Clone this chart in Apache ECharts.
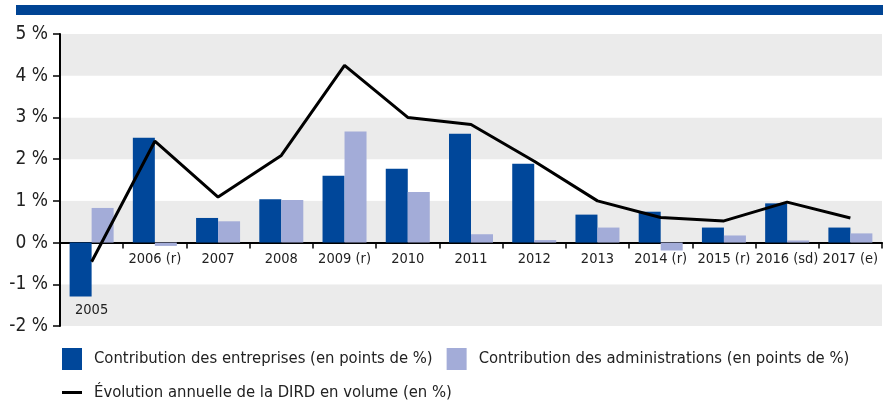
<!DOCTYPE html>
<html>
<head>
<meta charset="utf-8">
<script src="https://cdn.jsdelivr.net/npm/echarts@6/dist/echarts.min.js"></script>
<style>
  html, body { margin: 0; padding: 0; background: #fff; }
  #chart { width: 883px; height: 405px; }
</style>
</head>
<body>
<div id="chart"></div>
<script>
// categories and values
var years = ["2005", "2006 (r)", "2007", "2008", "2009 (r)", "2010", "2011", "2012", "2013", "2014 (r)", "2015 (r)", "2016 (sd)", "2017 (e)"];
var entreprises = [-1.29, 2.51, 0.59, 1.04, 1.6, 1.77, 2.61, 1.89, 0.67, 0.74, 0.36, 0.94, 0.36];
var administrations = [0.83, -0.08, 0.51, 1.02, 2.66, 1.21, 0.2, 0.06, 0.36, -0.19, 0.17, 0.05, 0.22];
var dird = [-0.46, 2.43, 1.09, 2.09, 4.25, 3.0, 2.83, 1.95, 1.0, 0.6, 0.52, 0.97, 0.59];

var font = "'DejaVu Sans Condensed', 'Liberation Sans Narrow', sans-serif";
var darkBlue = "#00479a";
var lightBlue = "#a3acd8";

var gridTop = 34;
var gridBottom = 79;
var yMin = -2;
var yMax = 5;
// move the category axis up to the 0 line
var plotHeight = 405 - gridTop - gridBottom;
var zeroShift = -plotHeight * (0 - yMin) / (yMax - yMin);

var myChart = echarts.init(document.getElementById("chart"));

var option = {
  animation: false,
  textStyle: { fontFamily: font, color: "#222" },
  graphic: [
    {
      type: "rect",
      shape: { x: 16, y: 5, width: 867, height: 10 },
      style: { fill: "#004494" },
    },
  ],
  legend: [
    {
      left: 57,
      top: 343,
      itemWidth: 20,
      itemHeight: 22,
      itemGap: 14,
      textStyle: { fontFamily: font, fontSize: 16.5, color: "#222", padding: [0, 0, 0, 7] },
      data: [
        { name: "Contribution des entreprises (en points de %)", icon: "rect" },
        { name: "Contribution des administrations (en points de %)", icon: "rect" },
      ],
    },
    {
      left: 57,
      top: 379,
      itemWidth: 20,
      itemHeight: 3,
      textStyle: { fontFamily: font, fontSize: 16.5, color: "#222", padding: [0, 0, 0, 7] },
      data: [{ name: "Évolution annuelle de la DIRD en volume (en %)", icon: "rect" }],
    },
  ],
  grid: {
    left: 60,
    right: 1,
    top: gridTop,
    bottom: gridBottom,
  },
  xAxis: {
    type: "category",
    data: years,
    offset: zeroShift,
    axisLine: { onZero: false, lineStyle: { color: "#000", width: 2 } },
    axisTick: { show: true, length: 6, lineStyle: { color: "#000", width: 1.5 } },
    axisLabel: {
      interval: 0,
      margin: 8,
      fontFamily: font,
      fontSize: 14.5,
      lineHeight: 17,
      color: "#222",
      formatter: function (value) {
        // 2005 sits under its negative bar
        return value === "2005" ? "\n\n\n" + value : value;
      },
    },
    splitLine: { show: false },
  },
  yAxis: {
    type: "value",
    min: yMin,
    max: yMax,
    interval: 1,
    axisLine: { show: true, lineStyle: { color: "#000", width: 2 } },
    axisTick: { show: true, length: 7, lineStyle: { color: "#000", width: 1.5 } },
    axisLabel: {
      margin: 12,
      fontFamily: font,
      fontSize: 19,
      color: "#222",
      formatter: "{value} %",
    },
    splitLine: { show: false },
    splitArea: {
      show: true,
      areaStyle: { color: ["#ebebeb", "#ffffff"] },
    },
  },
  series: [
    {
      name: "Contribution des entreprises (en points de %)",
      type: "bar",
      data: entreprises,
      barWidth: 22,
      barGap: "0%",
      itemStyle: { color: darkBlue },
    },
    {
      name: "Contribution des administrations (en points de %)",
      type: "bar",
      data: administrations,
      barWidth: 22,
      barGap: "0%",
      itemStyle: { color: lightBlue },
    },
    {
      name: "Évolution annuelle de la DIRD en volume (en %)",
      type: "line",
      data: dird,
      showSymbol: false,
      symbol: "none",
      z: 5,
      itemStyle: { color: "#000" },
      lineStyle: { color: "#000", width: 3 },
    },
  ],
};

myChart.setOption(option);
</script>
</body>
</html>
